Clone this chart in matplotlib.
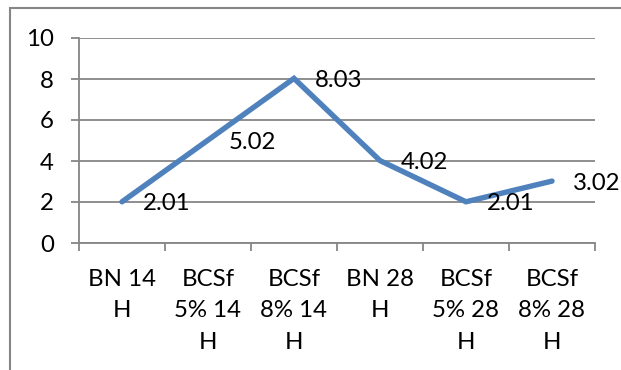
import matplotlib
matplotlib.use("Agg")
import matplotlib.pyplot as plt
from matplotlib.patches import Rectangle

# Daten
categories = ["BN 14\nH", "BCSf\n5% 14\nH", "BCSf\n8% 14\nH",
              "BN 28\nH", "BCSf\n5% 28\nH", "BCSf\n8% 28\nH"]
values = [2.01, 5.02, 8.03, 4.02, 2.01, 3.02]
y_ticks = [0, 2, 4, 6, 8, 10]

line_color = "#4F81BD"
grid_color = "#868686"
fs = 17.3

plt.rcParams["font.family"] = ["Lato", "DejaVu Sans"]

fig = plt.figure(figsize=(6.21, 3.70), dpi=100)
ax = fig.add_axes([79 / 621, 1 - 243 / 370, (595 - 79) / 621, (243 - 38) / 370])

x = list(range(len(values)))
ax.plot(x, values, color=line_color, linewidth=3.9, solid_capstyle="round",
        solid_joinstyle="miter", zorder=3, clip_on=False)

# Datenbeschriftungen rechts vom Punkt
for xi, v in zip(x, values):
    ax.annotate(f"{v:.2f}", (xi, v), xytext=(15, -1.5), textcoords="offset points",
                ha="left", va="center", fontsize=fs, color="black", zorder=4)

ax.set_xlim(-0.5, len(values) - 0.5)
ax.set_ylim(0, 10)
ax.set_yticks(y_ticks)
ax.set_yticklabels([str(t) for t in y_ticks], fontsize=fs)
ax.yaxis.grid(True, color=grid_color, linewidth=1.3)
ax.set_axisbelow(True)

# Kategorien zwischen den Strichen
ax.set_xticks([i - 0.5 for i in range(len(values) + 1)])
ax.set_xticklabels([])
ax.set_xticks(x, minor=True)
ax.set_xticklabels(categories, minor=True, fontsize=fs, va="top", linespacing=1.62)
ax.tick_params(axis="x", which="minor", length=0, pad=18.5)
ax.tick_params(axis="x", which="major", length=6, width=1.3, color=grid_color, direction="out")
ax.tick_params(axis="y", length=6, width=1.3, color=grid_color, pad=12)

for side in ["top", "right"]:
    ax.spines[side].set_visible(False)
for side in ["left", "bottom"]:
    ax.spines[side].set_color(grid_color)
    ax.spines[side].set_linewidth(1.3)

# Rahmen des Diagrammbereichs (rechts und unten abgeschnitten)
frame = Rectangle((10 / 621, -0.1), 1.2, 1 - 8 / 370 + 0.1, transform=fig.transFigure,
                  fill=False, edgecolor=grid_color, linewidth=1.5)
fig.patches.append(frame)

fig.savefig("out.png", dpi=100)
